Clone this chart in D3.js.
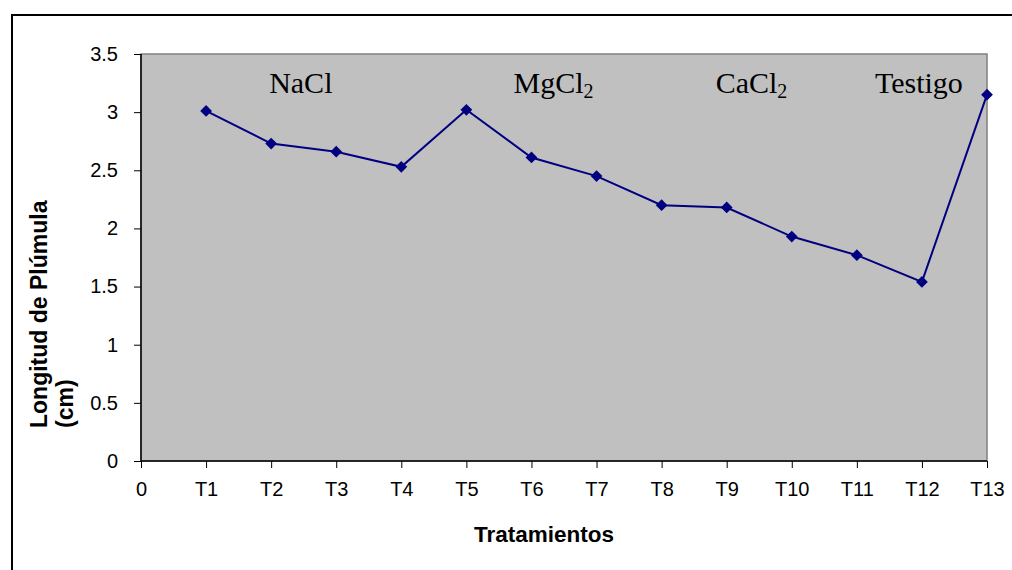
<!DOCTYPE html>
<html>
<head>
<meta charset="utf-8">
<script src="https://cdn.jsdelivr.net/npm/d3@7"></script>
<style>
  body { margin: 0; background: #fff; }
  svg text { font-family: Arial, "Liberation Sans", sans-serif; }
</style>
</head>
<body>
<div id="chart"></div>
<script>
// categories on the x axis (first one is the empty "0" slot)
var categories = ["0", "T1", "T2", "T3", "T4", "T5", "T6", "T7", "T8", "T9", "T10", "T11", "T12", "T13"];
var treatments = ["T1", "T2", "T3", "T4", "T5", "T6", "T7", "T8", "T9", "T10", "T11", "T12", "T13"];
var plumula = [3.01, 2.73, 2.66, 2.53, 3.02, 2.61, 2.45, 2.20, 2.18, 1.93, 1.77, 1.54, 3.15];
var yTicks = [0, 0.5, 1, 1.5, 2, 2.5, 3, 3.5];
var groupNames = ["NaCl", "MgCl", "CaCl", "Testigo"];
var groupSubs = ["", "2", "2", ""];
var groupAt = ["T2", "T6", "T9", "T12"];

function init() {
    var w = 1012;
    var h = 570;
    var left = 141, right = 987, top = 54, bottom = 461;
    var labelDx = [-2, -18, -11, -47]; // nudge of each group label from its category

    var svg = d3.select("#chart")
        .append("svg")
        .attr("width", w)
        .attr("height", h);

    // outer frame (runs off the page at right and bottom)
    svg.append("rect")
        .attr("x", 12).attr("y", 15)
        .attr("width", 1010).attr("height", 570)
        .attr("fill", "#fff")
        .attr("stroke", "#000")
        .attr("stroke-width", 2);

    var xScale = d3.scalePoint()
        .domain(categories)
        .range([left, right]);

    var yScale = d3.scaleLinear()
        .domain([0, 3.5])
        .range([bottom, top]);

    // plot area
    svg.append("rect")
        .attr("x", left).attr("y", top)
        .attr("width", right - left).attr("height", bottom - top)
        .attr("fill", "#c0c0c0")
        .attr("stroke", "#808080")
        .attr("stroke-width", 1.5);

    // y axis
    var yAxis = d3.axisLeft(yScale)
        .tickValues(yTicks)
        .tickSize(7)
        .tickPadding(16)
        .tickFormat(d3.format(""));

    var gy = svg.append("g")
        .attr("transform", "translate(" + left + ",0)")
        .call(yAxis);
    gy.select(".domain").attr("stroke", "#000").attr("stroke-width", 1.5)
        .attr("d", "M0," + top + "V" + bottom);
    gy.selectAll("text").attr("font-size", 20).attr("fill", "#000");

    // x axis
    var xAxis = d3.axisBottom(xScale)
        .tickSize(7)
        .tickPadding(14);

    var gx = svg.append("g")
        .attr("transform", "translate(0," + bottom + ")")
        .call(xAxis);
    gx.select(".domain").attr("stroke", "#000").attr("stroke-width", 1.5)
        .attr("d", "M" + left + ",0H" + right);
    gx.selectAll("text").attr("font-size", 20).attr("fill", "#000");

    // line
    var line = d3.line()
        .x(function (d, i) { return xScale(treatments[i]); })
        .y(function (d) { return yScale(d); });

    svg.append("path")
        .datum(plumula)
        .attr("d", line)
        .attr("fill", "none")
        .attr("stroke", "#000080")
        .attr("stroke-width", 2);

    // diamond markers
    var diamond = d3.symbol().type(d3.symbolDiamond2).size(88);
    svg.selectAll(".marker")
        .data(plumula)
        .enter()
        .append("path")
        .attr("class", "marker")
        .attr("d", diamond)
        .attr("transform", function (d, i) {
            return "translate(" + xScale(treatments[i]) + "," + yScale(d) + ")";
        })
        .attr("fill", "#000080");

    // group labels
    var labels = svg.selectAll(".grp")
        .data(groupNames)
        .enter()
        .append("text")
        .attr("class", "grp")
        .attr("x", function (d, i) { return xScale(groupAt[i]) + labelDx[i]; })
        .attr("y", 93)
        .style("font-family", "'Times New Roman', 'Liberation Serif', serif")
        .attr("font-size", 30)
        .attr("fill", "#000");
    labels.append("tspan").text(function (d) { return d; });
    labels.append("tspan")
        .attr("dy", 5)
        .attr("font-size", 20)
        .text(function (d, i) { return groupSubs[i]; });

    // axis titles
    svg.append("text")
        .attr("x", 544)
        .attr("y", 542)
        .attr("text-anchor", "middle")
        .attr("font-size", 22.5)
        .attr("font-weight", "bold")
        .text("Tratamientos");

    svg.append("text")
        .attr("transform", "translate(47,428) rotate(-90)")
        .attr("font-size", 23)
        .attr("font-weight", "bold")
        .text("Longitud de Plúmula");

    svg.append("text")
        .attr("transform", "translate(73,428) rotate(-90)")
        .attr("font-size", 23)
        .attr("font-weight", "bold")
        .text("(cm)");
}

window.onload = init;
</script>
</body>
</html>
